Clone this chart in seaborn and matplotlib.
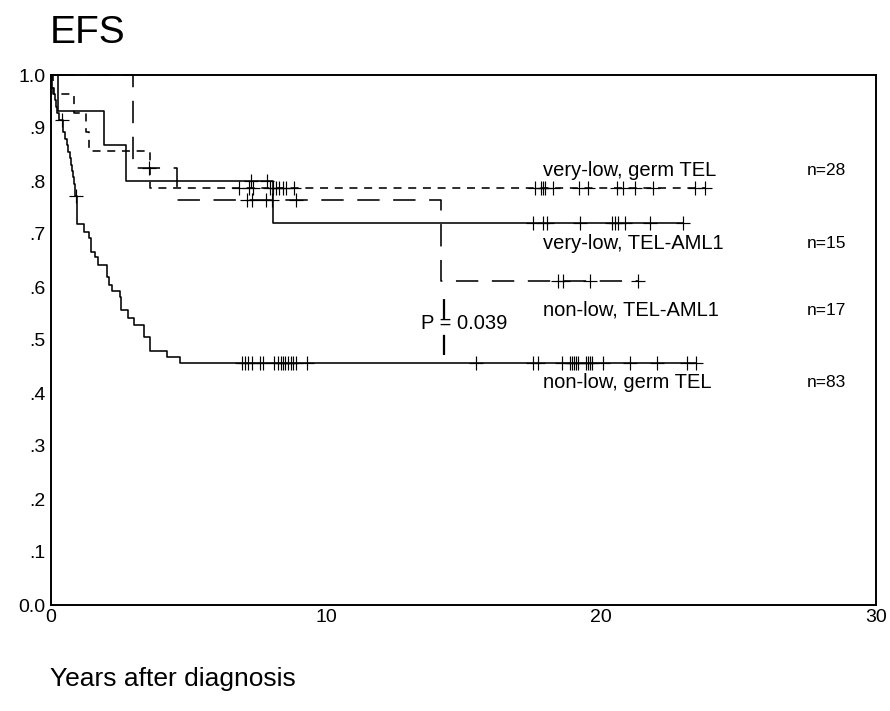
import numpy as np
import pandas as pd
import matplotlib
matplotlib.use("Agg")
import matplotlib.pyplot as plt
import seaborn as sns

# ---------------- data ----------------
group_labels = ["very-low, germ TEL", "very-low, TEL-AML1", "non-low, TEL-AML1", "non-low, germ TEL"]
group_n = ["n=28", "n=15", "n=17", "n=83"]

# very-low, germ TEL (short dash)
vlg_times = [0.0, 0.08, 0.84, 1.27, 1.38, 3.60]
vlg_surv = [1.0, 0.964, 0.929, 0.893, 0.857, 0.786]
vlg_cens = [6.85, 7.21, 7.36, 7.96, 8.06, 8.18, 8.30, 8.43, 8.55, 8.84,
            17.60, 17.81, 17.88, 17.96, 18.27, 19.21, 19.54, 20.57, 20.81, 21.24, 21.90, 23.42, 23.78]

# very-low, TEL-AML1 (solid)
vla_times = [0.0, 0.27, 1.93, 2.72, 8.08]
vla_surv = [1.0, 0.933, 0.867, 0.800, 0.720]
vla_cens = [7.27, 7.87, 17.54, 17.90, 18.02, 19.24, 20.39, 20.51, 20.63, 20.87, 21.78, 22.99]

# non-low, TEL-AML1 (long dash)
nla_times = [0.0, 2.98, 4.57, 14.17]
nla_surv = [1.0, 0.824, 0.765, 0.612]
nla_cens = [3.55, 7.14, 7.30, 7.80, 8.03, 8.90, 18.45, 18.63, 19.60, 21.36]

# non-low, germ TEL (solid)
nlg_times = [0.0, 0.02, 0.05, 0.10, 0.13, 0.17, 0.22, 0.30, 0.42, 0.45, 0.52, 0.58, 0.62,
             0.68, 0.72, 0.78, 0.80, 0.83, 0.86, 0.88, 0.93, 0.945, 0.955, 0.96, 1.20, 1.38,
             1.44, 1.60, 1.72, 2.03, 2.11, 2.21, 2.51, 2.55, 2.81, 3.02, 3.38, 3.60, 4.21, 4.69]
nlg_surv = [1.0, 0.988, 0.976, 0.964, 0.952, 0.940, 0.928, 0.916, 0.904, 0.892, 0.880, 0.867,
            0.855, 0.843, 0.831, 0.819, 0.807, 0.795, 0.783, 0.771, 0.755, 0.743, 0.731, 0.719,
            0.704, 0.692, 0.666, 0.657, 0.641, 0.619, 0.603, 0.592, 0.581, 0.556, 0.542, 0.529,
            0.505, 0.480, 0.468, 0.456]
nlg_cens = [0.41, 0.90, 6.96, 7.05, 7.16, 7.31, 7.60, 7.72, 8.12, 8.26, 8.35, 8.42, 8.51, 8.63,
            8.72, 8.81, 8.91, 9.32, 15.45, 17.52, 17.72, 18.59, 18.87, 18.95, 19.02, 19.09, 19.16,
            19.45, 19.53, 19.60, 19.69, 20.08, 21.05, 22.03, 23.14, 23.45]

p_text = "P = 0.039"
p_line_x = 14.3
p_line_y = [0.471, 0.578]

x_ticks = [0, 10, 20, 30]
x_tick_labels = ["0", "10", "20", "30"]
y_ticks = [0.0, 0.1, 0.2, 0.3, 0.4, 0.5, 0.6, 0.7, 0.8, 0.9, 1.0]
y_tick_labels = ["0.0", ".1", ".2", ".3", ".4", ".5", ".6", ".7", ".8", ".9", "1.0"]

title = "EFS"
x_label = "Years after diagnosis"

# ---------------- style ----------------
sns.set_style("white")
plt.rcParams["font.family"] = ["Liberation Sans", "DejaVu Sans"]
plt.rcParams["text.color"] = "black"
plt.rcParams["axes.labelcolor"] = "black"
plt.rcParams["xtick.color"] = "black"
plt.rcParams["ytick.color"] = "black"

fig = plt.figure(figsize=(8.9, 7.11), dpi=100)
ax = fig.add_axes([51 / 890, 1 - 605 / 711, (876 - 51) / 890, (605 - 75) / 711])

LW = 1.15
short_dash = (0, (5.0, 4.2))
long_dash = (0, (14.0, 8.5))

series = [
    (vlg_times, vlg_surv, vlg_cens, short_dash),
    (vla_times, vla_surv, vla_cens, "-"),
    (nla_times, nla_surv, nla_cens, long_dash),
    (nlg_times, nlg_surv, nlg_cens, "-"),
]

for times, surv, cens, ls in series:
    t = np.asarray(times, float)
    s = np.asarray(surv, float)
    c = np.asarray(cens, float)
    end = max(t.max(), c.max())
    xs = np.append(t, end)
    ys = np.append(s, s[-1])
    sns.lineplot(x=xs, y=ys, ax=ax, estimator=None, sort=False, drawstyle="steps-post",
                 color="black", linewidth=LW, linestyle=ls, clip_on=False)
    idx = np.searchsorted(t, c, side="right") - 1
    cy = s[idx]
    sns.scatterplot(x=c, y=cy, ax=ax, marker="+", color="black", s=100,
                    linewidth=0.85, clip_on=False, zorder=3)

# dashed segment through the P value
sns.lineplot(x=[p_line_x, p_line_x], y=p_line_y, ax=ax, estimator=None, sort=False,
             color="black", linewidth=LW * 1.4, linestyle=(0, (9.0, 7.0)))

# labels
label_x = 17.9
label_y = [0.820, 0.682, 0.556, 0.420]
n_x = 27.5
for lab, n, yv in zip(group_labels, group_n, label_y):
    ax.text(label_x, yv, lab, fontsize=14.5, va="center", ha="left", color="black")
    ax.text(n_x, yv, n, fontsize=12.5, va="center", ha="left", color="black")
ax.text(13.46, 0.532, p_text, fontsize=14.5, va="center", ha="left", color="black")

ax.set_xlim(0, 30)
ax.set_ylim(0, 1.0)
ax.set_xticks(x_ticks)
ax.set_xticklabels(x_tick_labels)
ax.set_yticks(y_ticks)
ax.set_yticklabels(y_tick_labels)
ax.tick_params(axis="both", direction="in", length=3, width=3, labelsize=14, color="black",
               labelcolor="black")
ax.tick_params(axis="y", pad=4)
ax.tick_params(axis="x", pad=3)
ax.set_xlabel("")
ax.set_ylabel("")
for sp in ax.spines.values():
    sp.set_visible(True)
    sp.set_color("black")
    sp.set_linewidth(1.4)

fig.text(50 / 890, 1 - 43 / 711, title, fontsize=28, ha="left", va="baseline", color="black")
fig.text(50 / 890, 1 - 686 / 711, x_label, fontsize=19, ha="left", va="baseline", color="black")

fig.savefig("out.png", dpi=100, facecolor="white")
